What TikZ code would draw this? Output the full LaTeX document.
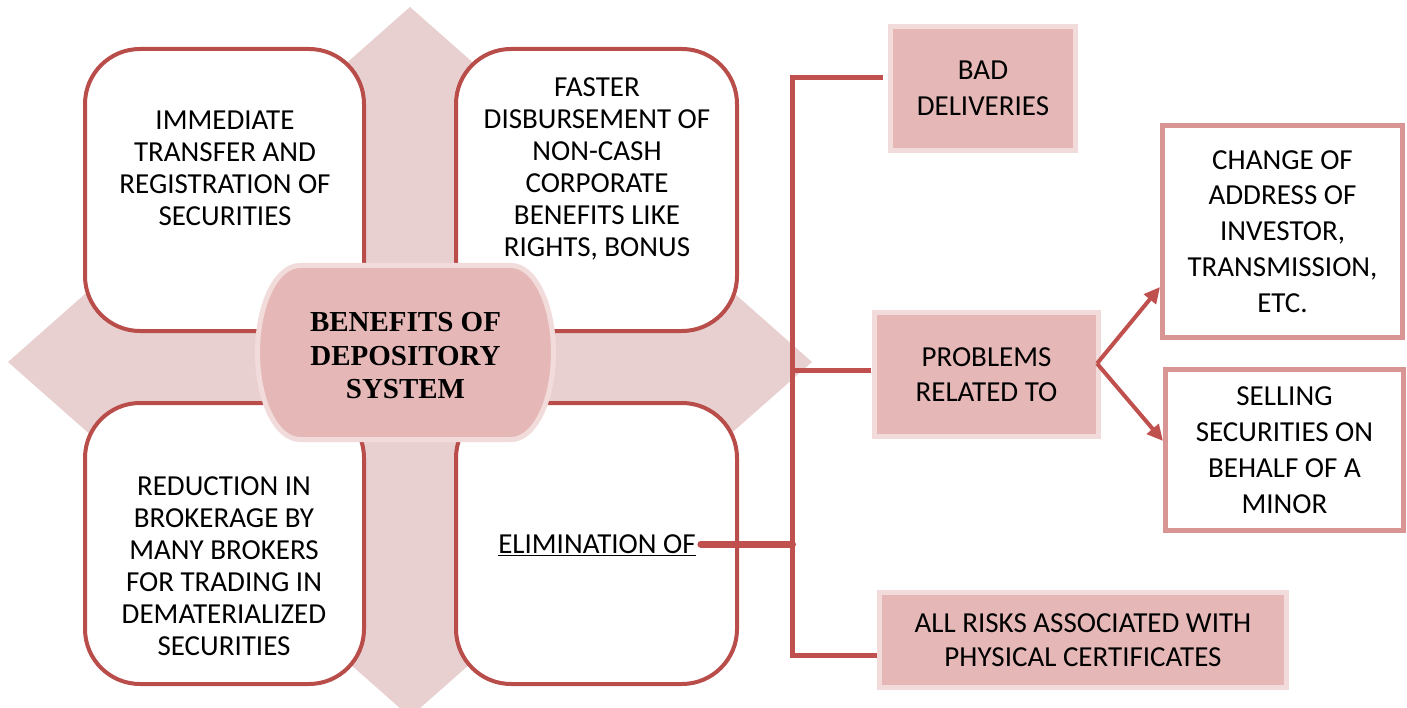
\documentclass[tikz,border=0pt]{standalone}
\usepackage{fontspec}
\setmainfont{Carlito}
\newfontfamily\titlefont{Liberation Serif}
\usetikzlibrary{arrows.meta}
\definecolor{dia}{HTML}{E8D0D1}
\definecolor{redline}{HTML}{C0504D}
\definecolor{rboxedge}{HTML}{B84D4A}
\definecolor{pfill}{HTML}{E5B8B7}
\definecolor{pedge}{HTML}{F2DCDB}
\definecolor{medge}{HTML}{D99594}
\begin{document}
\begin{tikzpicture}[x=1pt,y=-1pt,
  rbox/.style={draw=rboxedge, line width=4pt, fill=white, rounded corners=55pt, inner sep=0pt},
  pbox/.style={draw=pedge, line width=5pt, fill=pfill, align=center, inner sep=0pt},
  wbox/.style={draw=medge, line width=5pt, fill=white, align=center, inner sep=0pt},
  txt/.style={align=center, inner sep=0pt, font=\fontsize{29}{32}\selectfont},
  rtxt/.style={font=\fontsize{29}{35.5}\selectfont},
  conn/.style={draw=redline, line width=5pt, line join=miter},
  arr/.style={draw=redline, line width=4pt, -{Triangle[length=16pt,width=15pt]}}
]
\useasboundingbox (0,0) rectangle (1407,708);

% background diamond
\fill[dia] (410,7) -- (812,362) -- (410,717) -- (8,362) -- cycle;

% four rounded boxes
\node[rbox, minimum width=279pt, minimum height=282pt] (tl) at (224.5,190) {};
\node[rbox, minimum width=281pt, minimum height=282pt] (tr) at (596.5,190) {};
\node[rbox, minimum width=279pt, minimum height=281pt] (bl) at (224.5,543.5) {};
\node[rbox, minimum width=281pt, minimum height=281pt] (br) at (596.5,543.5) {};

% box texts
\node[txt] (tltext) at (225,168) {IMMEDIATE\\TRANSFER AND\\REGISTRATION OF\\SECURITIES};
\node[txt] (trtext) at (597,168.5) {FASTER\\DISBURSEMENT OF\\NON-CASH\\CORPORATE\\BENEFITS LIKE\\RIGHTS, BONUS};
\node[txt] (bltext) at (224,566) {REDUCTION IN\\BROKERAGE BY\\MANY BROKERS\\FOR TRADING IN\\DEMATERIALIZED\\SECURITIES};
\node[txt] (elim) at (597,545) {\underline{ELIMINATION OF}};

% central title shape
\draw[draw=pedge, line width=5pt, fill=pfill]
  (300,265.5) -- (511,265.5)
  .. controls (535,265.5) and (553.5,305) .. (553.5,352.5)
  .. controls (553.5,400) and (535,439.5) .. (511,439.5)
  -- (300,439.5)
  .. controls (276,439.5) and (257.5,400) .. (257.5,352.5)
  .. controls (257.5,305) and (276,265.5) .. (300,265.5) -- cycle;
\node[align=center, inner sep=0pt, font=\titlefont\bfseries\fontsize{29}{33.5}\selectfont] (title) at (405.5,356) {BENEFITS OF\\DEPOSITORY\\SYSTEM};

% right side boxes
\node[pbox, rtxt, minimum width=185pt, minimum height=124pt] (bad) at (983,88.5) {BAD\\DELIVERIES};
\node[pbox, rtxt, minimum width=224pt, minimum height=124pt] (prob) at (986.5,374.5) {PROBLEMS\\RELATED TO};
\node[pbox, font=\fontsize{29}{34}\selectfont, minimum width=407pt, minimum height=95pt] (risks) at (1083,640) {ALL RISKS ASSOCIATED WITH\\PHYSICAL CERTIFICATES};
\node[wbox, font=\fontsize{29}{35.8}\selectfont, minimum width=240pt, minimum height=212pt] (chg) at (1282.5,231.5) {CHANGE OF\\ADDRESS OF\\INVESTOR,\\TRANSMISSION,\\ETC.};
\node[wbox, font=\fontsize{29}{36}\selectfont, minimum width=238pt, minimum height=161pt] (sell) at (1284.5,450) {SELLING\\SECURITIES ON\\BEHALF OF A\\MINOR};

% connectors
\coordinate (ttop) at (792.5,78);
\coordinate (tbot) at (792.5,655);
\coordinate (bj) at (883,78);
\coordinate (pj) at (871,370);
\coordinate (rj) at (877,655);
\draw[conn] (bj) -- (ttop) -- (tbot) -- (rj);
\draw[conn] (pj -| ttop) -- (pj);
\draw[draw=redline, line width=7pt, line cap=round] ([xshift=5pt,yshift=1pt]elim.east) -- ([yshift=1pt]elim.east -| ttop);
\draw[arr] ([xshift=-4pt,yshift=11pt]prob.east) -- ([yshift=-55.5pt]chg.west);
\draw[arr] ([xshift=-4pt,yshift=11pt]prob.east) -- ([yshift=9pt]sell.west);
\end{tikzpicture}
\end{document}
